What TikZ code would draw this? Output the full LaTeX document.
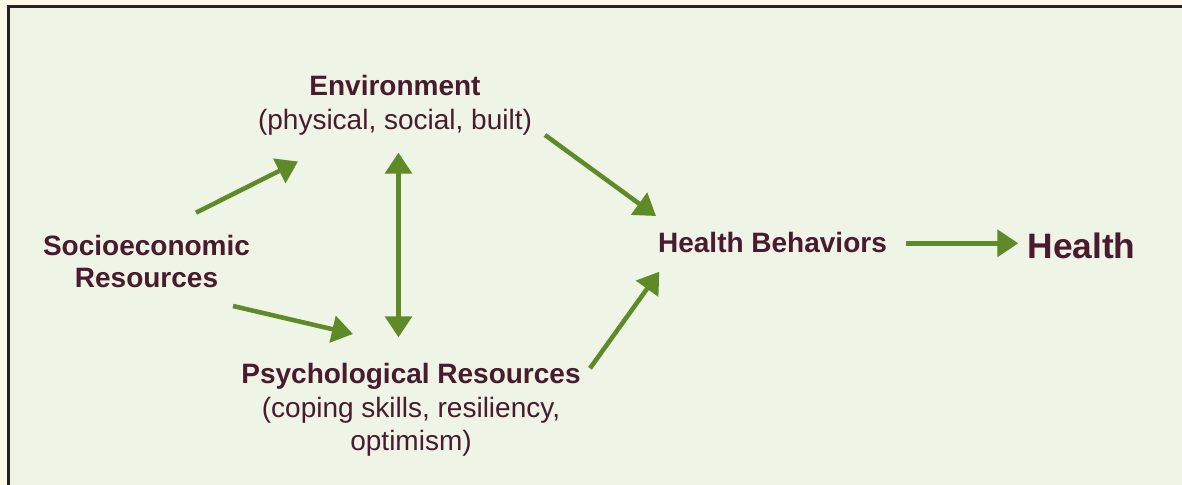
\documentclass[tikz,border=0pt]{standalone}
\usepackage{fontspec}
\setmainfont{Liberation Sans}
\usetikzlibrary{arrows.meta}
\definecolor{bgc}{HTML}{EEF4E6}
\definecolor{outerc}{HTML}{FFF8E8}
\definecolor{borderc}{HTML}{262222}
\definecolor{textc}{HTML}{4A1A2F}
\definecolor{arrowc}{HTML}{5F8A28}
\tikzset{
  lbl/.style={text=textc, align=center, inner sep=0pt, font=\fontsize{21}{25}\selectfont},
  conn/.style={draw=arrowc, line width=3.4pt, -{Triangle[length=15.75pt,width=20pt]}},
  dconn/.style={draw=arrowc, line width=3.4pt, {Triangle[length=15.75pt,width=20pt]}-{Triangle[length=15.75pt,width=20pt]}}
}
\begin{document}
\begin{tikzpicture}[x=0.75pt,y=-0.75pt]
\useasboundingbox (0,0) rectangle (1182,485);
\fill[outerc] (0,0) rectangle (1182,485);
\fill[bgc] (8.3,6.7) rectangle (1190,495);
\draw[borderc, line width=2.4pt] (1190,6.7) -- (8.3,6.7) -- (8.3,495);

% anchor=base refers to the baseline of the last line
\node[lbl, anchor=base] (env) at (395,129) {\textbf{Environment}\\(physical, social, built)};
\node[lbl, anchor=base, font=\fontsize{21}{23.3}\selectfont] (soc) at (146.5,287) {\textbf{Socioeconomic}\\\textbf{Resources}};
\node[lbl, anchor=base] (psy) at (411,450.5) {\textbf{Psychological Resources}\\(coping skills, resiliency,\\optimism)};
\node[lbl, anchor=base] (hb) at (772.5,252.5) {\textbf{Health Behaviors}};
\node[lbl, anchor=base, font=\fontsize{26.5}{30}\selectfont] (h) at (1081.5,258) {\textbf{Health}};

\coordinate (s1) at (196,212.7);
\coordinate (e1) at (298,161.5);
\coordinate (s2) at (233,306);
\coordinate (e2) at (353,334);
\coordinate (v1) at (398.5,152.7);
\coordinate (v2) at (398.5,337.3);
\coordinate (s3) at (545,135);
\coordinate (e3) at (656,216);
\coordinate (s4) at (590,368.3);
\coordinate (e4) at (659.3,271.7);
\coordinate (s5) at (906,243.3);
\coordinate (e5) at (1018.3,243.3);

\draw[conn] (s1) -- (e1);
\draw[conn] (s2) -- (e2);
\draw[dconn] (v1) -- (v2);
\draw[conn] (s3) -- (e3);
\draw[conn] (s4) -- (e4);
\draw[conn] (s5) -- (e5);
\end{tikzpicture}
\end{document}
